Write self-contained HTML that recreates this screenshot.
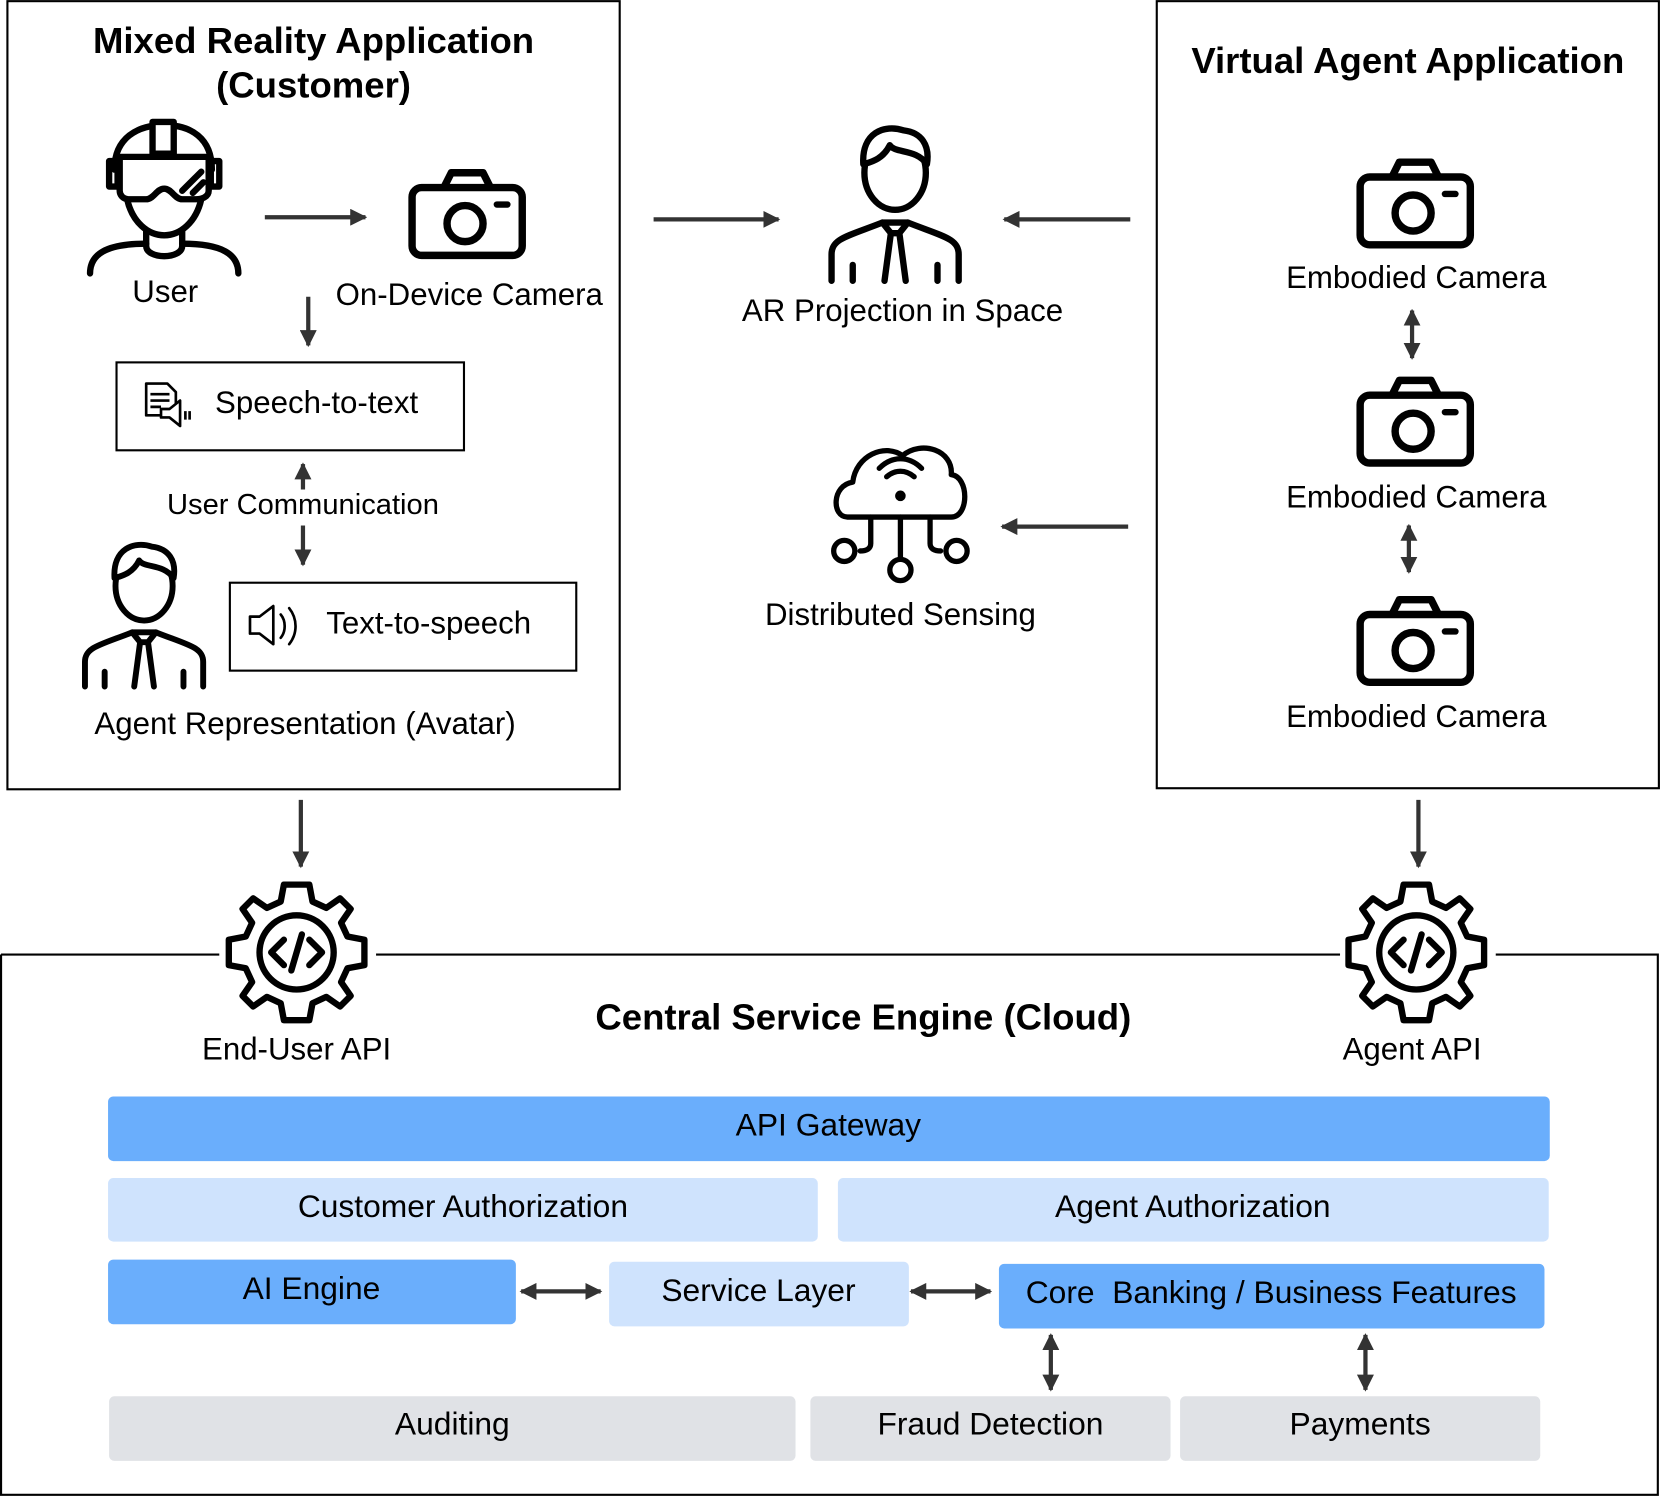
<!DOCTYPE html>
<html><head><meta charset="utf-8"><style>html,body{margin:0;padding:0;background:#fff}svg{display:block}</style></head><body>
<svg width="1661" height="1497" viewBox="0 0 1568 1413" xmlns="http://www.w3.org/2000/svg" font-family="Liberation Sans, Arial, sans-serif">
<defs>
<marker id="ah" viewBox="0 0 10 10" refX="9" refY="5" markerWidth="4" markerHeight="4" orient="auto-start-reverse"><path d="M0,0L10,5L0,10z" fill="#333"/></marker>
<g id="cam" fill="none" stroke="#000" stroke-width="7" stroke-linejoin="round">
<rect x="-52" y="-30" width="104" height="64" rx="9"/>
<path d="M-22,-30 L-15,-44 H15 L22,-30"/>
<circle cx="-2" cy="4" r="17"/>
<path d="M28,-14 H38" stroke-width="6" stroke-linecap="round"/>
</g>
<g id="man" fill="none" stroke="#000" stroke-width="6" stroke-linecap="round" stroke-linejoin="round">
<ellipse cx="0" cy="-2" rx="29" ry="35"/>
<path d="M-30,-10 C-32,-40 -10,-48 8,-42 C25,-40 33,-28 30,-10 C20,-25 0,-20 -5,-28 C-12,-14 -24,-12 -30,-10z" fill="#fff"/>
<path d="M-60,100 V75 C-60,60 -45,58 -12,45 H12 C45,58 60,60 60,75 V100"/>
<path d="M-40,85 V100 M40,85 V100"/>
<path d="M-12,45 L-4,55 H4 L12,45 M-4,55 L-10,100 M4,55 L10,100"/>
</g>
<g id="gear" fill="none" stroke="#000" stroke-width="6" stroke-linejoin="round">
<path d="M-12,-64 H12 L15,-48 L28,-42 L41,-51 L51,-41 L42,-28 L48,-15 L64,-12 V12 L48,15 L42,28 L51,41 L41,51 L28,42 L15,48 L12,64 H-12 L-15,48 L-28,42 L-41,51 L-51,41 L-42,28 L-48,15 L-64,12 V-12 L-48,-15 L-42,-28 L-51,-41 L-41,-51 L-28,-42 L-15,-48z" fill="#fff"/>
<circle r="35"/>
<path d="M-12,-12 L-24,0 L-12,12 M12,-12 L24,0 L12,12 M5,-17 L-5,17" stroke-linecap="round"/>
</g>
</defs>

<rect x="7" y="1" width="578" height="744" fill="none" stroke="#000" stroke-width="2"/>
<rect x="1092" y="1" width="474" height="743" fill="none" stroke="#000" stroke-width="2"/>
<path d="M1,901 H207 M355,901 H1265 M1412,901 H1565 V1411 H1 V901" fill="none" stroke="#000" stroke-width="2"/>

<text x="296" y="50" font-size="34.5" font-weight="bold" text-anchor="middle">Mixed Reality Application</text>
<text x="296" y="92" font-size="34.5" font-weight="bold" text-anchor="middle">(Customer)</text>
<text x="1329" y="69" font-size="34.5" font-weight="bold" text-anchor="middle">Virtual Agent Application</text>

<g fill="none" stroke="#000" stroke-width="6" stroke-linecap="round" stroke-linejoin="round">
<path d="M108,160 C108,130 130,118 155,118 C180,118 200,130 200,160"/>
<rect x="144" y="115" width="20" height="30" fill="#fff"/>
<rect x="103" y="152" width="8" height="24"/><rect x="199" y="152" width="8" height="24"/>
<path d="M113,148 H197 V180 C197,186 190,188 185,188 H172 C165,188 162,178 155,178 C148,178 145,188 138,188 H122 C116,188 113,184 113,180z" fill="#fff"/>
<path d="M172,180 L190,162 M182,182 L192,172"/>
<path d="M120,188 C125,210 140,222 155,222 C170,222 185,210 190,188"/>
<path d="M138,218 V232 C138,245 172,245 172,232 V218"/>
<path d="M85,258 C85,240 100,230 138,230 M172,230 C210,230 225,240 225,258"/>
</g>
<text x="156" y="285" font-size="29.5" text-anchor="middle">User</text>
<use href="#cam" x="441" y="207"/>
<text x="443" y="288" font-size="29.5" text-anchor="middle">On-Device Camera</text>

<rect x="110" y="342" width="328" height="83" fill="#fff" stroke="#000" stroke-width="2"/>
<g fill="none" stroke="#000" stroke-width="2.5" stroke-linejoin="round">
<path d="M138,362 H158 L166,370 V392 H138z M142,372 H160 M142,378 H160 M142,384 H152"/>
<path d="M152,386 H160 L170,378 V402 L160,394 H152z" fill="#fff"/>
<path d="M175,388 V396 M179,388 V396"/>
</g>
<text x="203" y="390" font-size="29.5">Speech-to-text</text>
<text x="286" y="485" font-size="27.5" text-anchor="middle">User Communication</text>

<use href="#man" x="136" y="555" transform="translate(136,555) scale(0.93) translate(-136,-555)"/>
<text x="288" y="693" font-size="29.5" text-anchor="middle">Agent Representation (Avatar)</text>

<rect x="217" y="550" width="327" height="83" fill="#fff" stroke="#000" stroke-width="2"/>
<g fill="none" stroke="#000" stroke-width="2.5" stroke-linejoin="round" stroke-linecap="round">
<path d="M236,582 H245 L258,572 V608 L245,598 H236z"/>
<path d="M265,580 C270,586 270,596 265,602 M273,574 C281,584 281,598 273,608"/>
</g>
<text x="308" y="598" font-size="29.5">Text-to-speech</text>

<use href="#man" x="845" y="165"/>
<text x="852" y="303" font-size="29.5" text-anchor="middle">AR Projection in Space</text>

<g fill="none" stroke="#000" stroke-width="5" stroke-linecap="round" stroke-linejoin="round">
<path d="M800,488 C785,488 785,458 805,455 C808,430 835,418 852,430 C870,415 900,425 898,448 C915,450 915,488 898,488z"/>
<path d="M837,450 C845,443 855,443 863,450 M830,442 C842,430 858,430 870,442"/>
<circle cx="850" cy="468" r="2.5" fill="#000"/>
<path d="M850,488 V528 M822,488 V513 C822,518 818,520 812,520 M878,488 V513 C878,518 882,520 888,520"/>
<circle cx="797" cy="520" r="10"/><circle cx="903" cy="520" r="10"/><circle cx="850" cy="538" r="10"/>
</g>
<text x="850" y="590" font-size="29.5" text-anchor="middle">Distributed Sensing</text>

<use href="#cam" x="1336" y="197"/>
<text x="1337" y="272" font-size="29.5" text-anchor="middle">Embodied Camera</text>
<use href="#cam" x="1336" y="403"/>
<text x="1337" y="479" font-size="29.5" text-anchor="middle">Embodied Camera</text>
<use href="#cam" x="1336" y="610"/>
<text x="1337" y="686" font-size="29.5" text-anchor="middle">Embodied Camera</text>

<g stroke="#333" stroke-width="4" fill="none">
<path d="M250,205 H345" marker-end="url(#ah)"/>
<path d="M617,207 H735" marker-end="url(#ah)"/>
<path d="M1067,207 H948" marker-end="url(#ah)"/>
<path d="M1065,497 H946" marker-end="url(#ah)"/>
<path d="M291,280 V326" marker-end="url(#ah)"/>
<path d="M286,462 V438" marker-end="url(#ah)"/>
<path d="M286,496 V533" marker-end="url(#ah)"/>
<path d="M284,755 V818" marker-end="url(#ah)"/>
<path d="M1339,755 V818" marker-end="url(#ah)"/>
<path d="M1333,293 V338" marker-start="url(#ah)" marker-end="url(#ah)"/>
<path d="M1330,496 V540" marker-start="url(#ah)" marker-end="url(#ah)"/>
<path d="M492,1219 H567" marker-start="url(#ah)" marker-end="url(#ah)"/>
<path d="M860,1219 H935" marker-start="url(#ah)" marker-end="url(#ah)"/>
<path d="M992,1260 V1312" marker-start="url(#ah)" marker-end="url(#ah)"/>
<path d="M1289,1260 V1312" marker-start="url(#ah)" marker-end="url(#ah)"/>
</g>

<use href="#gear" x="280" y="899"/>
<use href="#gear" x="1337" y="899"/>
<text x="280" y="1000" font-size="29.5" text-anchor="middle">End-User API</text>
<text x="1333" y="1000" font-size="29.5" text-anchor="middle">Agent API</text>
<text x="815" y="972" font-size="34.5" font-weight="bold" text-anchor="middle">Central Service Engine (Cloud)</text>

<g font-size="30" text-anchor="middle">
<rect x="102" y="1035" width="1361" height="61" rx="5" fill="#6aaefc"/>
<text x="782" y="1072">API Gateway</text>
<rect x="102" y="1112" width="670" height="60" rx="5" fill="#cfe3fd"/>
<text x="437" y="1149">Customer Authorization</text>
<rect x="791" y="1112" width="671" height="60" rx="5" fill="#cfe3fd"/>
<text x="1126" y="1149">Agent Authorization</text>
<rect x="102" y="1189" width="385" height="61" rx="5" fill="#6aaefc"/>
<text x="294" y="1226">AI Engine</text>
<rect x="575" y="1191" width="283" height="61" rx="5" fill="#cfe3fd"/>
<text x="716" y="1228">Service Layer</text>
<rect x="943" y="1193" width="515" height="61" rx="5" fill="#6aaefc"/>
<text x="1200" y="1230" xml:space="preserve">Core  Banking / Business Features</text>
<rect x="103" y="1318" width="648" height="61" rx="5" fill="#e0e2e6"/>
<text x="427" y="1354">Auditing</text>
<rect x="765" y="1318" width="340" height="61" rx="5" fill="#e0e2e6"/>
<text x="935" y="1354">Fraud Detection</text>
<rect x="1114" y="1318" width="340" height="61" rx="5" fill="#e0e2e6"/>
<text x="1284" y="1354">Payments</text>
</g>
</svg>
</body></html>
